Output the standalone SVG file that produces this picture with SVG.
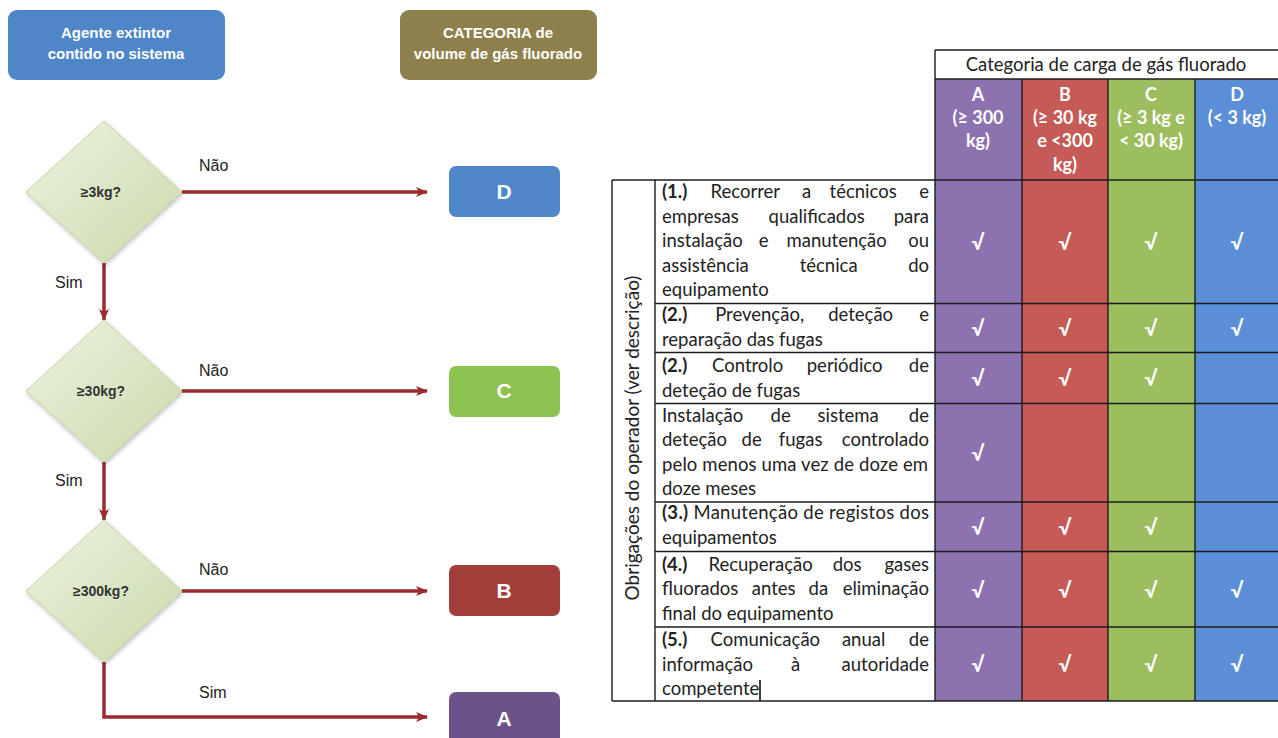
<svg xmlns="http://www.w3.org/2000/svg" width="1278" height="738" viewBox="0 0 1278 738">
<defs>
<linearGradient id="dg" x1="0" y1="0" x2="1" y2="1">
<stop offset="0" stop-color="#eef3e2"/>
<stop offset="1" stop-color="#c9d9a9"/>
</linearGradient>
<filter id="sh" x="-20%" y="-20%" width="140%" height="140%">
<feDropShadow dx="1" dy="2" stdDeviation="2" flood-color="#000" flood-opacity="0.25"/>
</filter>
<marker id="ah" viewBox="0 0 12 10" refX="11" refY="5" markerWidth="12" markerHeight="10" markerUnits="userSpaceOnUse" orient="auto">
<path d="M0,0 L12,5 L0,10 L3,5 Z" fill="#9b2b2f"/>
</marker>
<style>
.hdr{font-family:"Liberation Sans",Arial,sans-serif;font-weight:bold;font-size:15px;fill:#fff;text-anchor:middle}
.lbl{font-family:"Liberation Sans",Arial,sans-serif;font-size:16px;fill:#222}
.dtx{font-family:"Liberation Sans",Arial,sans-serif;font-weight:bold;font-size:14px;fill:#333;text-anchor:middle}
.cat{font-family:"Liberation Sans",Arial,sans-serif;font-weight:bold;font-size:21px;fill:#fff;text-anchor:middle}
.conn{fill:none;stroke:#9b2b2f;stroke-width:3.5}
.grid{stroke:#1c1c1c;stroke-width:1.4;fill:none}
.tb{font-family:Lato,"Liberation Sans",sans-serif;font-size:18.5px;fill:#222}
.tb .b{font-weight:bold}
.mid{text-anchor:middle}
.end{text-anchor:end}
.th{font-family:Lato,"Liberation Sans",sans-serif;font-weight:bold;font-size:18px;fill:#fff;text-anchor:middle}
.ck{font-family:Lato,"DejaVu Sans",sans-serif;font-weight:bold;font-size:21px;fill:#fff;text-anchor:middle}
</style>
</defs>
<rect width="1278" height="738" fill="#fff"/>

<g id="header-agente">
<rect x="8" y="10" width="217" height="70" rx="9" fill="#4e86c8"/>
<text class="hdr" x="116" y="38">Agente extintor</text>
<text class="hdr" x="116" y="59">contido no sistema</text>
</g>
<g id="header-categoria">
<rect x="400" y="10" width="197" height="70" rx="9" fill="#8d804d"/>
<text class="hdr" x="498" y="38">CATEGORIA de</text>
<text class="hdr" x="498" y="59">volume de gás fluorado</text>
</g>

<g id="connectors">
<line class="conn" x1="182" y1="192" x2="427" y2="192" marker-end="url(#ah)"/>
<line class="conn" x1="104" y1="263" x2="104" y2="320" marker-end="url(#ah)"/>
<line class="conn" x1="182" y1="391" x2="427" y2="391" marker-end="url(#ah)"/>
<line class="conn" x1="104" y1="462" x2="104" y2="520" marker-end="url(#ah)"/>
<line class="conn" x1="182" y1="591" x2="427" y2="591" marker-end="url(#ah)"/>
<polyline class="conn" points="104,662 104,717 427,717" marker-end="url(#ah)"/>
<text class="lbl" x="199" y="171">Não</text>
<text class="lbl" x="55" y="288">Sim</text>
<text class="lbl" x="199" y="376">Não</text>
<text class="lbl" x="55" y="486">Sim</text>
<text class="lbl" x="199" y="575">Não</text>
<text class="lbl" x="199" y="698">Sim</text>
</g>

<g id="decision-3kg">
<polygon points="104,121 182,192 104,263 26,192" fill="url(#dg)" stroke="#c4d3a6" stroke-width="1" filter="url(#sh)"/>
<text class="dtx" x="101" y="197">≥3kg?</text>
</g>
<g id="decision-30kg">
<polygon points="104,320 182,391 104,462 26,391" fill="url(#dg)" stroke="#c4d3a6" stroke-width="1" filter="url(#sh)"/>
<text class="dtx" x="101" y="396">≥30kg?</text>
</g>
<g id="decision-300kg">
<polygon points="104,520 182,591 104,662 26,591" fill="url(#dg)" stroke="#c4d3a6" stroke-width="1" filter="url(#sh)"/>
<text class="dtx" x="101" y="596">≥300kg?</text>
</g>

<g id="cat-D">
<rect x="449" y="166" width="111" height="51" rx="7" fill="#4f87c9"/>
<text class="cat" x="504" y="199">D</text>
</g>
<g id="cat-C">
<rect x="449" y="366" width="111" height="51" rx="7" fill="#8cc24f"/>
<text class="cat" x="504" y="398">C</text>
</g>
<g id="cat-B">
<rect x="449" y="565" width="111" height="51" rx="7" fill="#a23f3a"/>
<text class="cat" x="504" y="598">B</text>
</g>
<g id="cat-A">
<rect x="449" y="692" width="111" height="56" rx="7" fill="#6a5389"/>
<text class="cat" x="504" y="726">A</text>
</g>

<g id="table">
<rect x="935" y="79" width="87" height="622" fill="#8d72b0"/>
<rect x="1022" y="79" width="86" height="622" fill="#c55a56"/>
<rect x="1108" y="79" width="87" height="622" fill="#9dbe5f"/>
<rect x="1195" y="79" width="85" height="622" fill="#5a8ed6"/>

<text class="th" x="978" y="101">A</text>
<text class="th" x="978" y="124">(≥ 300</text>
<text class="th" x="978" y="147">kg)</text>
<text class="th" x="1065" y="101">B</text>
<text class="th" x="1065" y="124">(≥ 30 kg</text>
<text class="th" x="1065" y="147">e &lt;300</text>
<text class="th" x="1065" y="171">kg)</text>
<text class="th" x="1151" y="101">C</text>
<text class="th" x="1151" y="124">(≥ 3 kg e</text>
<text class="th" x="1151" y="147">&lt; 30 kg)</text>
<text class="th" x="1237" y="101">D</text>
<text class="th" x="1237" y="124">(&lt; 3 kg)</text>

<g class="grid">
<line x1="935" y1="50" x2="1280" y2="50"/>
<line x1="935" y1="79" x2="1280" y2="79"/>
<line x1="612" y1="180" x2="1280" y2="180"/>
<line x1="655" y1="303.5" x2="1280" y2="303.5"/>
<line x1="655" y1="352.5" x2="1280" y2="352.5"/>
<line x1="655" y1="403.5" x2="1280" y2="403.5"/>
<line x1="655" y1="502" x2="1280" y2="502"/>
<line x1="655" y1="551.5" x2="1280" y2="551.5"/>
<line x1="655" y1="627" x2="1280" y2="627"/>
<line x1="612" y1="701" x2="1280" y2="701"/>
<line x1="612" y1="180" x2="612" y2="701"/>
<line x1="655" y1="180" x2="655" y2="701"/>
<line x1="935" y1="50" x2="935" y2="701"/>
<line x1="1022" y1="79" x2="1022" y2="701"/>
<line x1="1108" y1="79" x2="1108" y2="701"/>
<line x1="1195" y1="79" x2="1195" y2="701"/>
</g>

<text class="tb mid" x="1106" y="71">Categoria de carga de gás fluorado</text>

<text class="tb mid" style="font-size:19px" transform="translate(639,438) rotate(-90)">Obrigações do operador (ver descrição)</text>

<text class="tb" y="198"><tspan class="b" x="662">(1.) </tspan><tspan x="747.5" class="mid">Recorrer </tspan><tspan x="809" class="mid">a </tspan><tspan x="865.5" class="mid">técnicos </tspan><tspan x="929" class="end">e</tspan></text>
<text class="tb" y="223"><tspan x="662">empresas </tspan><tspan x="819" class="mid">qualificados </tspan><tspan x="929" class="end">para</tspan></text>
<text class="tb" y="247"><tspan x="662">instalação </tspan><tspan x="766" class="mid">e </tspan><tspan x="839" class="mid">manutenção </tspan><tspan x="929" class="end">ou</tspan></text>
<text class="tb" y="272"><tspan x="662">assistência </tspan><tspan x="831" class="mid">técnica </tspan><tspan x="929" class="end">do</tspan></text>
<text class="tb" x="662" y="296">equipamento</text>

<text class="tb" y="321"><tspan class="b" x="662">(2.) </tspan><tspan x="762" class="mid">Prevenção, </tspan><tspan x="863" class="mid">deteção </tspan><tspan x="929" class="end">e</tspan></text>
<text class="tb" x="662" y="346">reparação das fugas</text>

<text class="tb" y="372"><tspan class="b" x="662">(2.) </tspan><tspan x="750" class="mid">Controlo </tspan><tspan x="847" class="mid">periódico </tspan><tspan x="929" class="end">de</tspan></text>
<text class="tb" x="662" y="397">deteção de fugas</text>

<text class="tb" y="422"><tspan x="662">Instalação </tspan><tspan x="783" class="mid">de </tspan><tspan x="850.5" class="mid">sistema </tspan><tspan x="929" class="end">de</tspan></text>
<text class="tb" y="446"><tspan x="662">deteção </tspan><tspan x="754" class="mid">de </tspan><tspan x="803" class="mid">fugas </tspan><tspan x="929" class="end">controlado</tspan></text>
<text class="tb" x="662" y="471" textLength="266" lengthAdjust="spacing">pelo menos uma vez de doze em</text>
<text class="tb" x="662" y="495">doze meses</text>

<text class="tb" x="662" y="519" textLength="267" lengthAdjust="spacing"><tspan class="b">(3.)</tspan> Manutenção de registos dos</text>
<text class="tb" x="662" y="544">equipamentos</text>

<text class="tb" y="571"><tspan class="b" x="662">(4.) </tspan><tspan x="763" class="mid">Recuperação </tspan><tspan x="849.5" class="mid">dos </tspan><tspan x="929" class="end">gases</tspan></text>
<text class="tb" y="595"><tspan x="662">fluorados </tspan><tspan x="776" class="mid">antes </tspan><tspan x="820.7" class="mid">da </tspan><tspan x="929" class="end">eliminação</tspan></text>
<text class="tb" x="662" y="620">final do equipamento</text>

<text class="tb" y="646"><tspan class="b" x="662">(5.) </tspan><tspan x="767.7" class="mid">Comunicação </tspan><tspan x="866" class="mid">anual </tspan><tspan x="929" class="end">de</tspan></text>
<text class="tb" y="671"><tspan x="662">informação </tspan><tspan x="798" class="mid">à </tspan><tspan x="929" class="end">autoridade</tspan></text>
<text class="tb" x="662" y="695">competente</text>
<line x1="760" y1="680" x2="760" y2="701" stroke="#000" stroke-width="1.5"/>

<g>
<text class="ck" x="978" y="250">√</text><text class="ck" x="1065" y="250">√</text><text class="ck" x="1151" y="250">√</text><text class="ck" x="1237" y="250">√</text>
<text class="ck" x="978" y="336">√</text><text class="ck" x="1065" y="336">√</text><text class="ck" x="1151" y="336">√</text><text class="ck" x="1237" y="336">√</text>
<text class="ck" x="978" y="386">√</text><text class="ck" x="1065" y="386">√</text><text class="ck" x="1151" y="386">√</text>
<text class="ck" x="978" y="461">√</text>
<text class="ck" x="978" y="535">√</text><text class="ck" x="1065" y="535">√</text><text class="ck" x="1151" y="535">√</text>
<text class="ck" x="978" y="598">√</text><text class="ck" x="1065" y="598">√</text><text class="ck" x="1151" y="598">√</text><text class="ck" x="1237" y="598">√</text>
<text class="ck" x="978" y="672">√</text><text class="ck" x="1065" y="672">√</text><text class="ck" x="1151" y="672">√</text><text class="ck" x="1237" y="672">√</text>
</g>
</g>
</svg>
